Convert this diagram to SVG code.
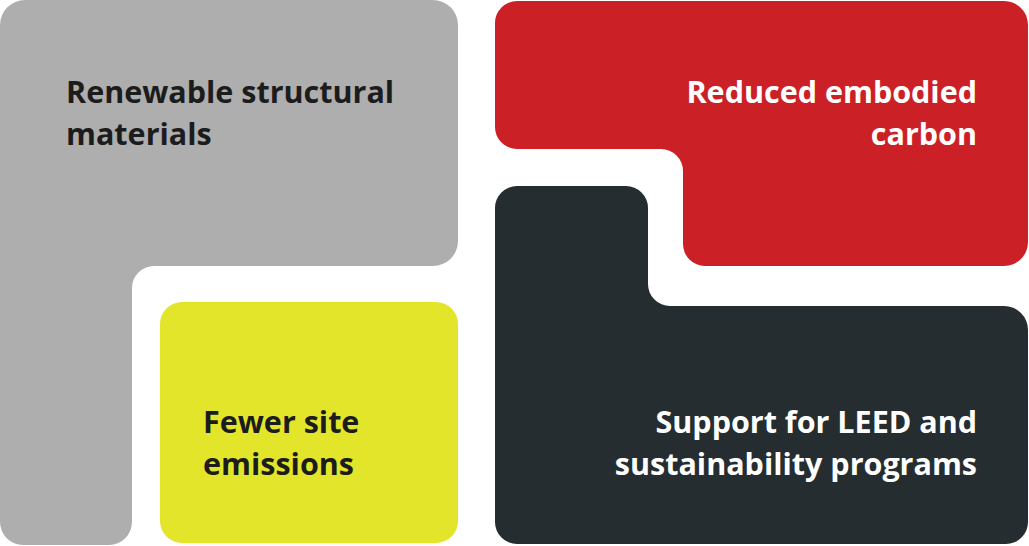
<svg xmlns="http://www.w3.org/2000/svg" width="1029" height="546" viewBox="0 0 1029 546">
<style>
.t{font-family:"Open Sans","Noto Sans",sans-serif;font-weight:700;font-size:30.5px}
.dk{fill:#1c1c1c}
.wh{fill:#ffffff}
.end{text-anchor:end}
</style>
<rect width="1029" height="546" fill="#ffffff"/>
<g id="renewable">
<path fill="#aeaeae" d="M0,25 A25,25 0 0 1 25,0 H433 A25,25 0 0 1 458,25 V241 A25,25 0 0 1 433,266 H154 A22,22 0 0 0 132,288 V522 A23,23 0 0 1 109,545 H23 A23,23 0 0 1 0,522 Z"/>
<text class="t dk" x="66" y="103">Renewable structural</text>
<text class="t dk" x="66" y="145">materials</text>
</g>
<g id="fewer">
<rect x="160" y="302" width="298" height="241" rx="22" fill="#e2e52a"/>
<text class="t dk" x="203" y="433">Fewer site</text>
<text class="t dk" x="203" y="475">emissions</text>
</g>
<g id="reduced">
<path fill="#cc2027" d="M495,23 A22,22 0 0 1 517,1 H1004 A24,24 0 0 1 1028,25 V242 A24,24 0 0 1 1004,266 H705 A22,22 0 0 1 683,244 V171 A22,22 0 0 0 661,149 H517 A22,22 0 0 1 495,127 Z"/>
<text class="t wh end" x="977" y="103">Reduced embodied</text>
<text class="t wh end" x="977" y="145">carbon</text>
</g>
<g id="support">
<path fill="#252d30" d="M495,208 A22,22 0 0 1 517,186 H626 A22,22 0 0 1 648,208 V284 A22,22 0 0 0 670,306 H1004 A24,24 0 0 1 1028,330 V522 A22,22 0 0 1 1006,544 H517 A22,22 0 0 1 495,522 Z"/>
<text class="t wh end" x="977" y="433">Support for LEED and</text>
<text class="t wh end" x="977" y="475">sustainability programs</text>
</g>
<g id="connectors"/>
</svg>
